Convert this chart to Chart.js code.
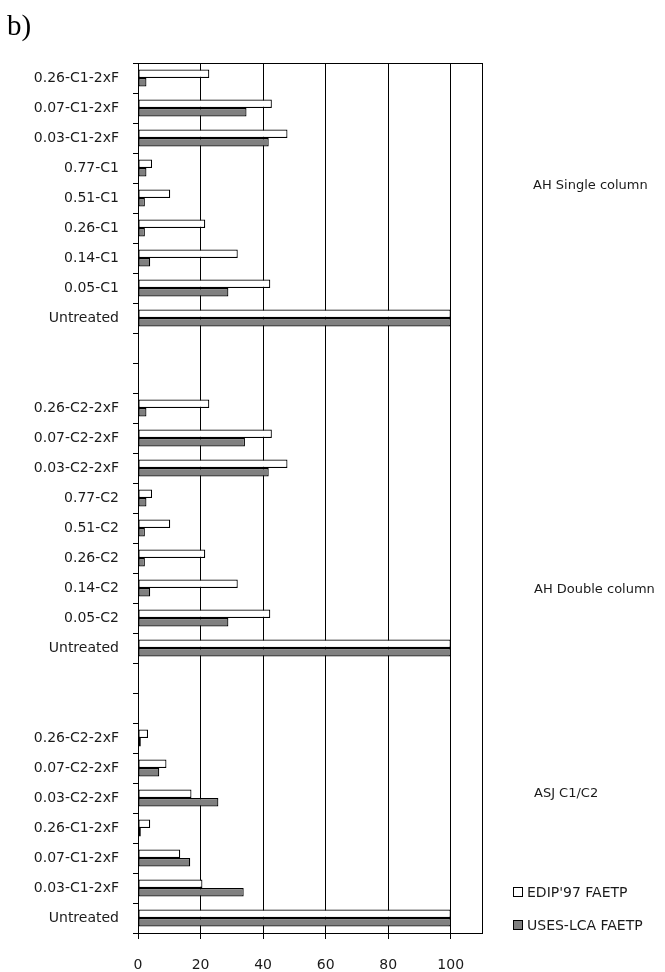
<!DOCTYPE html>
<html>
<head>
<meta charset="utf-8">
<script src="https://cdn.jsdelivr.net/npm/chart.js@4/dist/chart.umd.min.js"></script>
<style>
  html, body { margin: 0; padding: 0; background: #fff; }
  #wrap { width: 665px; height: 972px; position: relative; }
</style>
</head>
<body>
<div id="wrap"><canvas id="chart" width="665" height="972"></canvas></div>
<script>
// categories, top to bottom ('' = empty spacer rows)
const categories = [
  "0.26-C1-2xF", "0.07-C1-2xF", "0.03-C1-2xF", "0.77-C1", "0.51-C1", "0.26-C1", "0.14-C1", "0.05-C1", "Untreated",
  "", "",
  "0.26-C2-2xF", "0.07-C2-2xF", "0.03-C2-2xF", "0.77-C2", "0.51-C2", "0.26-C2", "0.14-C2", "0.05-C2", "Untreated",
  "", "",
  "0.26-C2-2xF", "0.07-C2-2xF", "0.03-C2-2xF", "0.26-C1-2xF", "0.07-C1-2xF", "0.03-C1-2xF", "Untreated"
];

// EDIP'97 FAETP (white bars)
const edipValues = [
  22.8, 42.8, 47.8, 4.5, 10.3, 21.5, 31.9, 42.3, 100,
  null, null,
  22.8, 42.8, 47.8, 4.5, 10.3, 21.5, 31.9, 42.3, 100,
  null, null,
  3.2, 9.1, 17.1, 3.9, 13.5, 20.6, 100
];

// USES-LCA FAETP (grey bars)
const usesValues = [
  2.7, 34.7, 41.8, 2.7, 2.2, 2.2, 3.9, 28.9, 100,
  null, null,
  2.7, 34.2, 41.8, 2.7, 2.2, 2.2, 3.9, 28.9, 100,
  null, null,
  0.9, 6.8, 25.7, 0.9, 16.7, 33.8, 100
];

const seriesNames = ["EDIP'97 FAETP", "USES-LCA FAETP"];
const groupNames = ["AH Single column", "AH Double column", "ASJ C1/C2"];
const xTickValues = [0, 20, 40, 60, 80, 100];
const xMax = 110;

const FONT = "'DejaVu Sans', sans-serif";
const INK = "#1a1a1a";

// plot frame, side captions, legend and the "b)" panel mark
const decorations = {
  id: "decorations",
  afterDraw(chart) {
    const ctx = chart.ctx;
    const a = chart.chartArea;
    ctx.save();
    ctx.strokeStyle = "#000";
    ctx.lineWidth = 1;
    ctx.beginPath();
    ctx.moveTo(a.left - 5, Math.round(a.top) + 0.5);
    ctx.lineTo(a.right, Math.round(a.top) + 0.5);
    ctx.stroke();

    ctx.fillStyle = "#000";
    ctx.font = "29px 'Liberation Serif', serif";
    ctx.textBaseline = "alphabetic";
    ctx.textAlign = "left";
    ctx.fillText("b)", 7, 35);

    ctx.fillStyle = INK;
    ctx.font = "13px " + FONT;
    ctx.textBaseline = "middle";
    ctx.fillText(groupNames[0], 533, 186);
    ctx.fillText(groupNames[1], 534, 590);
    ctx.fillText(groupNames[2], 534, 794);

    // legend
    const ds = chart.data.datasets;
    const rows = [892, 925];
    ds.forEach((d, i) => {
      ctx.fillStyle = d.backgroundColor;
      ctx.fillRect(513, rows[i] - 5, 10, 10);
      ctx.strokeStyle = "#000";
      ctx.strokeRect(513.5, rows[i] - 4.5, 9, 9);
      ctx.fillStyle = INK;
      ctx.font = "14px " + FONT;
      ctx.fillText(d.label, 527, rows[i] + 1);
    });
    ctx.restore();
  }
};

new Chart(document.getElementById("chart"), {
  type: "bar",
  data: {
    labels: categories,
    datasets: [
      {
        label: seriesNames[0],
        data: edipValues,
        backgroundColor: "#ffffff",
        borderColor: "#000000",
        borderWidth: 1.2,
        borderSkipped: false,
        inflateAmount: 0
      },
      {
        label: seriesNames[1],
        data: usesValues,
        backgroundColor: "#808080",
        borderColor: "#000000",
        borderWidth: 1.2,
        borderSkipped: false,
        inflateAmount: 0
      }
    ]
  },
  options: {
    indexAxis: "y",
    responsive: false,
    animation: false,
    categoryPercentage: 0.57,
    barPercentage: 1.0,
    layout: { padding: { top: 63, right: 183, left: 0, bottom: 0 } },
    plugins: {
      legend: { display: false },
      tooltip: { enabled: false }
    },
    scales: {
      x: {
        type: "linear",
        min: 0,
        max: xMax,
        afterFit: (scale) => { scale.height = 39; },
        afterBuildTicks: (scale) => {
          scale.ticks = xTickValues.concat([xMax]).map(v => ({ value: v }));
        },
        ticks: {
          color: INK,
          font: { family: FONT, size: 14 },
          padding: 18,
          maxRotation: 0,
          callback: (v) => (xTickValues.includes(v) ? String(v) : "")
        },
        grid: {
          color: "#000",
          lineWidth: 1,
          tickLength: 6,
          tickColor: (c) => (c.tick && c.tick.value === xMax ? "rgba(0,0,0,0)" : "#000")
        },
        border: { display: true, color: "#000", width: 1 }
      },
      y: {
        type: "category",
        afterFit: (scale) => { scale.width = 138; },
        ticks: {
          color: INK,
          font: { family: FONT, size: 14 },
          padding: 14,
          autoSkip: false
        },
        grid: {
          display: true,
          drawOnChartArea: false,
          offset: true,
          tickLength: 5,
          color: "#000"
        },
        border: { display: true, color: "#000", width: 1 }
      }
    }
  },
  plugins: [decorations]
});
</script>
</body>
</html>
